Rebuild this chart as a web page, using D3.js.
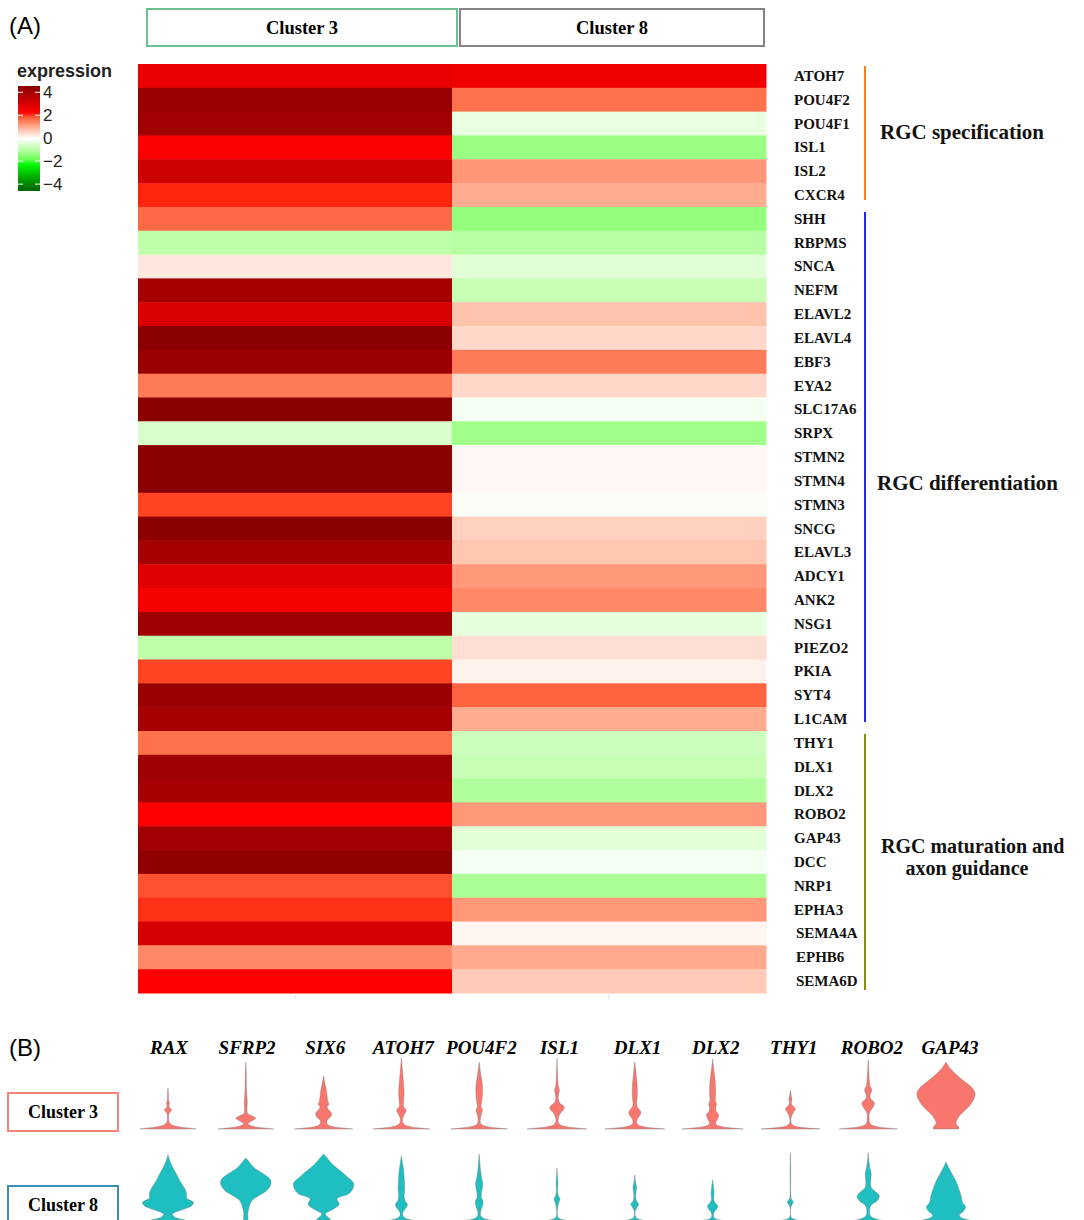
<!DOCTYPE html>
<html>
<head>
<meta charset="utf-8">
<script src="https://cdn.jsdelivr.net/npm/d3@7"></script>
<style>
	body { margin: 0; background: #fff; }
	svg { display: block; }
</style>
</head>
<body>
<svg id="chart" width="1084" height="1220"></svg>
<script>
// ---- data ----
const genes = ['ATOH7', 'POU4F2', 'POU4F1', 'ISL1', 'ISL2', 'CXCR4', 'SHH', 'RBPMS', 'SNCA', 'NEFM',
	'ELAVL2', 'ELAVL4', 'EBF3', 'EYA2', 'SLC17A6', 'SRPX', 'STMN2', 'STMN4', 'STMN3', 'SNCG',
	'ELAVL3', 'ADCY1', 'ANK2', 'NSG1', 'PIEZO2', 'PKIA', 'SYT4', 'L1CAM', 'THY1', 'DLX1',
	'DLX2', 'ROBO2', 'GAP43', 'DCC', 'NRP1', 'EPHA3', 'SEMA4A', 'EPHB6', 'SEMA6D']

const clusters = ['Cluster 3', 'Cluster 8']

const cluster3 = [2.64, 4.2, 4.07, 2.34, 3.18, 2.16, 1.7, -0.96, 0.27, 3.97,
	2.95, 4.5, 4.2, 1.52, 4.5, -0.58, 4.5, 4.5, 2.0, 4.5,
	3.95, 2.87, 2.4, 4.1, -0.96, 2.0, 4.2, 3.95, 1.62, 4.1,
	3.95, 2.3, 4.05, 4.4, 1.89, 2.1, 3.03, 1.37, 2.25]

const cluster8 = [2.55, 1.62, -0.35, -1.37, 1.21, 0.98, -1.45, -1.03, -0.47, -0.84,
	0.73, 0.47, 1.52, 0.47, -0.16, -1.33, 0.1, 0.1, -0.1, 0.56,
	0.68, 1.2, 1.37, -0.38, 0.38, 0.17, 1.74, 0.98, -0.76, -0.84,
	-1.12, 1.2, -0.45, -0.16, -1.2, 1.2, 0.12, 1.0, 0.62]

const legendTicks = [4, 2, 0, -2, -4]

const groupNames = ['RGC specification', 'RGC differentiation', 'RGC maturation and\naxon guidance']
const groupFirst = ['ATOH7', 'SHH', 'THY1']
const groupLast = ['CXCR4', 'L1CAM', 'SEMA6D']

const violinGenes = ['RAX', 'SFRP2', 'SIX6', 'ATOH7', 'POU4F2', 'ISL1', 'DLX1', 'DLX2', 'THY1', 'ROBO2', 'GAP43']

// violin profiles: [expression, half density]
const violin3 = [
	[[0,0.95],[0.06,0.65],[0.13,0.35],[0.22,0.14],[0.35,0.05],[0.55,0.02],[0.85,0.03],[1.0,0.09],[1.08,0.12],[1.18,0.06],[1.3,0.03],[1.45,0.05],[1.6,0.02],[2.0,0.015],[2.3,0]],
	[[0,0.93],[0.06,0.6],[0.13,0.3],[0.22,0.12],[0.32,0.08],[0.45,0.2],[0.6,0.33],[0.75,0.2],[0.88,0.06],[1.1,0.04],[1.5,0.05],[2.0,0.03],[2.5,0.02],[3.2,0.015],[3.77,0]],
	[[0,0.97],[0.06,0.62],[0.13,0.32],[0.22,0.15],[0.35,0.1],[0.5,0.12],[0.7,0.24],[0.9,0.26],[1.1,0.16],[1.25,0.12],[1.4,0.18],[1.55,0.14],[1.8,0.12],[2.2,0.09],[2.6,0.04],[3.0,0]],
	[[0,0.95],[0.06,0.6],[0.13,0.3],[0.22,0.12],[0.35,0.05],[0.6,0.04],[0.9,0.12],[1.07,0.16],[1.25,0.07],[1.5,0.07],[2.0,0.09],[2.6,0.07],[3.2,0.04],[3.7,0.015],[4.0,0]],
	[[0,0.95],[0.06,0.6],[0.13,0.28],[0.22,0.1],[0.35,0.04],[0.6,0.04],[0.9,0.08],[1.07,0.11],[1.25,0.06],[1.5,0.08],[2.0,0.11],[2.6,0.1],[3.1,0.05],[3.5,0.02],[3.77,0]],
	[[0,1.0],[0.06,0.65],[0.13,0.32],[0.22,0.12],[0.35,0.05],[0.6,0.04],[0.9,0.12],[1.1,0.22],[1.25,0.24],[1.45,0.1],[1.7,0.04],[2.0,0.06],[2.2,0.08],[2.45,0.04],[3.0,0.02],[4.0,0]],
	[[0,1.0],[0.06,0.62],[0.13,0.3],[0.22,0.12],[0.35,0.06],[0.55,0.08],[0.8,0.18],[0.96,0.2],[1.15,0.12],[1.35,0.06],[1.8,0.08],[2.4,0.08],[3.0,0.05],[3.5,0.02],[3.77,0]],
	[[0,1.02],[0.06,0.64],[0.13,0.32],[0.22,0.14],[0.35,0.1],[0.55,0.16],[0.8,0.2],[1.0,0.12],[1.2,0.1],[1.4,0.13],[1.6,0.09],[2.0,0.1],[2.6,0.09],[3.2,0.05],[3.6,0.02],[3.94,0]],
	[[0,0.98],[0.05,0.6],[0.11,0.28],[0.2,0.1],[0.32,0.03],[0.6,0.02],[0.95,0.1],[1.13,0.17],[1.3,0.08],[1.45,0.03],[1.65,0.05],[1.85,0.03],[2.2,0]],
	[[0,0.97],[0.06,0.6],[0.13,0.3],[0.22,0.12],[0.35,0.05],[0.6,0.03],[0.9,0.04],[1.2,0.15],[1.46,0.21],[1.7,0.08],[1.9,0.06],[2.2,0.12],[2.45,0.06],[2.9,0.03],[3.4,0.015],[3.9,0]],
	[[0,0.43],[0.12,0.42],[0.3,0.33],[0.5,0.36],[0.75,0.45],[1.0,0.6],[1.3,0.78],[1.7,0.93],[2.0,0.97],[2.3,0.88],[2.7,0.6],[3.1,0.32],[3.45,0.12],[3.77,0]]
]

const violin8 = [
	[[0,0.85],[0.12,0.55],[0.3,0.2],[0.45,0.15],[0.65,0.4],[0.9,0.78],[1.1,0.85],[1.35,0.62],[1.6,0.62],[1.9,0.55],[2.3,0.4],[2.7,0.28],[3.1,0.15],[3.45,0.06],[3.77,0]],
	[[0,0.08],[0.5,0.07],[0.9,0.12],[1.2,0.2],[1.45,0.4],[1.75,0.68],[2.05,0.82],[2.35,0.83],[2.7,0.6],[3.0,0.32],[3.2,0.2],[3.45,0.08],[3.6,0]],
	[[0,0.3],[0.2,0.2],[0.45,0.06],[0.7,0.3],[1.0,0.52],[1.3,0.45],[1.6,0.85],[1.9,0.98],[2.2,1.0],[2.5,0.82],[2.8,0.62],[3.1,0.4],[3.4,0.22],[3.65,0.1],[3.83,0]],
	[[0,1.0],[0.06,0.62],[0.13,0.3],[0.22,0.12],[0.35,0.05],[0.55,0.05],[0.8,0.16],[1.0,0.2],[1.2,0.12],[1.45,0.09],[1.8,0.11],[2.3,0.1],[2.8,0.08],[3.3,0.04],[3.72,0]],
	[[0,1.0],[0.06,0.62],[0.13,0.3],[0.22,0.12],[0.35,0.05],[0.6,0.05],[0.9,0.11],[1.15,0.13],[1.4,0.07],[1.7,0.08],[2.1,0.12],[2.5,0.08],[3.0,0.04],[3.5,0.015],[3.83,0]],
	[[0,1.0],[0.05,0.6],[0.11,0.26],[0.2,0.08],[0.32,0.02],[0.7,0.015],[1.1,0.06],[1.3,0.1],[1.5,0.04],[1.8,0.02],[2.2,0.03],[2.6,0.015],[3.04,0]],
	[[0,0.97],[0.05,0.58],[0.11,0.25],[0.2,0.08],[0.32,0.02],[0.6,0.015],[0.85,0.08],[1.0,0.13],[1.2,0.05],[1.5,0.03],[1.8,0.05],[2.0,0.06],[2.2,0.03],[2.65,0]],
	[[0,1.0],[0.05,0.6],[0.11,0.26],[0.2,0.08],[0.32,0.03],[0.55,0.05],[0.75,0.14],[0.9,0.17],[1.05,0.1],[1.25,0.04],[1.6,0.05],[2.0,0.03],[2.37,0]],
	[[0,0.97],[0.05,0.58],[0.11,0.24],[0.2,0.07],[0.32,0.015],[0.8,0.01],[1.0,0.06],[1.13,0.1],[1.3,0.03],[1.6,0.01],[2.5,0.01],[3.4,0.006],[3.9,0]],
	[[0,0.97],[0.06,0.62],[0.14,0.32],[0.25,0.14],[0.4,0.06],[0.7,0.05],[0.95,0.1],[1.2,0.3],[1.46,0.37],[1.7,0.25],[1.95,0.1],[2.3,0.08],[2.7,0.1],[3.1,0.05],[3.5,0.02],[3.9,0]],
	[[0,0.93],[0.1,0.8],[0.25,0.5],[0.4,0.45],[0.6,0.58],[0.85,0.65],[1.1,0.55],[1.5,0.5],[1.9,0.42],[2.3,0.33],[2.7,0.2],[3.05,0.09],[3.38,0]]
]

// ---- styles ----
const serif = '"Liberation Serif", "Times New Roman", serif'
const sans = '"Liberation Sans", Arial, sans-serif'
const groupColors = ['#f0801e', '#2424ff', '#8c8a12']
const violinFill = ['#f8766d', '#1fbec1']
const headerStroke = ['#6cbf8e', '#858585']
const boxStroke = ['#f4837d', '#3a8fb7']

const svg = d3.select('#chart')

let color = d3.scaleLinear()
	.domain([-4.5, -2.25, 0, 2.25, 4.5])
	.range(['#006400', '#00ff00', '#ffffff', '#ff0000', '#8b0000'])
	.interpolate(d3.interpolateLab)
	.clamp(true)

function drawHeatmap() {
	let x = d3.scaleBand().domain(clusters).range([138, 766])
	let y = d3.scaleBand().domain(genes).range([64, 993])

	let cells = []
	genes.forEach((g, i) => {
		cells.push({ gene: g, cluster: clusters[0], value: cluster3[i] })
		cells.push({ gene: g, cluster: clusters[1], value: cluster8[i] })
	})

	svg.append('g').selectAll('rect')
		.data(cells)
		.enter()
		.append('rect')
		.attr('x', d => x(d.cluster))
		.attr('y', d => y(d.gene))
		.attr('width', x.bandwidth() + 0.5)
		.attr('height', y.bandwidth() + 0.5)
		.attr('fill', d => color(d.value))

	// faint x ticks under the heatmap
	svg.append('g').selectAll('line')
		.data(clusters)
		.enter()
		.append('line')
		.attr('x1', d => x(d) + x.bandwidth() / 2)
		.attr('x2', d => x(d) + x.bandwidth() / 2)
		.attr('y1', 995)
		.attr('y2', 999)
		.attr('stroke', '#ddd')

	// header boxes
	let headers = [[147, 457], [460, 764]]
	clusters.forEach((c, i) => {
		svg.append('rect')
			.attr('x', headers[i][0]).attr('y', 9)
			.attr('width', headers[i][1] - headers[i][0]).attr('height', 37)
			.attr('fill', 'none')
			.attr('stroke', headerStroke[i])
			.attr('stroke-width', 2)
		svg.append('text')
			.attr('x', (headers[i][0] + headers[i][1]) / 2)
			.attr('y', 34)
			.attr('text-anchor', 'middle')
			.attr('font-family', serif)
			.attr('font-weight', 'bold')
			.attr('font-size', 18.5)
			.text(c)
	})

	// gene labels
	svg.append('g').selectAll('text')
		.data(genes)
		.enter()
		.append('text')
		.attr('x', d => d.startsWith('SEMA') || d === 'EPHB6' ? 796 : 794)
		.attr('y', d => y(d) + y.bandwidth() / 2 + 5)
		.attr('font-family', serif)
		.attr('font-weight', 'bold')
		.attr('font-size', 15)
		.attr('fill', '#111')
		.text(d => d)

	// group brackets
	let insets = [[2, 7], [5, 9], [3, 3]]
	let labelY = [139, 490, 853]
	let labelX = [880, 877, 881]
	groupNames.forEach((name, i) => {
		svg.append('line')
			.attr('x1', 865).attr('x2', 865)
			.attr('y1', y(groupFirst[i]) + insets[i][0])
			.attr('y2', y(groupLast[i]) + y.bandwidth() - insets[i][1])
			.attr('stroke', groupColors[i])
			.attr('stroke-width', 2)
		let lines = name.split('\n')
		lines.forEach((line, j) => {
			svg.append('text')
				.attr('x', j === 0 ? labelX[i] : 967)
				.attr('y', labelY[i] + j * 22)
				.attr('text-anchor', j === 0 ? 'start' : 'middle')
				.attr('font-family', serif)
				.attr('font-weight', 'bold')
				.attr('font-size', i === 2 ? 20 : 21)
				.attr('fill', '#111')
				.text(line)
		})
	})
}

function drawLegend() {
	let ly = d3.scaleLinear().domain([-4.6, 4.55]).range([191, 86])

	let grad = svg.append('defs').append('linearGradient')
		.attr('id', 'legend-grad')
		.attr('x1', 0).attr('y1', 1).attr('x2', 0).attr('y2', 0)
	d3.range(0, 1.0001, 0.05).forEach(t => {
		let v = -4.6 + t * 9.15
		grad.append('stop').attr('offset', t).attr('stop-color', color(v))
	})

	svg.append('text')
		.attr('x', 17).attr('y', 77)
		.attr('font-family', sans)
		.attr('font-weight', 'bold')
		.attr('font-size', 18)
		.attr('fill', '#222')
		.text('expression')

	svg.append('rect')
		.attr('x', 18).attr('y', ly(4.55))
		.attr('width', 22).attr('height', ly(-4.6) - ly(4.55))
		.attr('fill', 'url(#legend-grad)')

	let ticks = svg.append('g').selectAll('g')
		.data(legendTicks)
		.enter()
		.append('g')
	ticks.append('line')
		.attr('x1', 18).attr('x2', 23)
		.attr('y1', d => ly(d)).attr('y2', d => ly(d))
		.attr('stroke', '#fff').attr('stroke-width', 1)
	ticks.append('line')
		.attr('x1', 35).attr('x2', 40)
		.attr('y1', d => ly(d)).attr('y2', d => ly(d))
		.attr('stroke', '#fff').attr('stroke-width', 1)
	ticks.append('text')
		.attr('x', 43)
		.attr('y', d => ly(d) + 6)
		.attr('font-family', sans)
		.attr('font-size', 17)
		.attr('fill', '#222')
		.text(d => d < 0 ? '\u2212' + Math.abs(d) : d)
}

function drawViolins() {
	let xv = d3.scalePoint().domain(violinGenes).range([168, 946])
	let xl = d3.scalePoint().domain(violinGenes).range([169, 950])
	let wv = d3.scaleLinear().domain([0, 1]).range([0, 30])
	let rows = [
		{ data: violin3, y: d3.scaleLinear().domain([0, 4]).range([1129, 1058]) },
		{ data: violin8, y: d3.scaleLinear().domain([0, 4]).range([1222, 1151]) }
	]

	rows.forEach((row, r) => {
		svg.append('g').selectAll('path')
			.data(violinGenes)
			.enter()
			.append('path')
			.attr('d', (g, i) => {
				let cx = xv(g)
				return d3.area()
					.curve(d3.curveCatmullRom.alpha(0.5))
					.y(d => row.y(d[0]))
					.x0(d => cx - wv(d[1]))
					.x1(d => cx + wv(d[1]))(row.data[i])
			})
			.attr('fill', violinFill[r])
			.attr('stroke', '#777')
			.attr('stroke-width', 0.4)
	})

	svg.append('g').selectAll('text')
		.data(violinGenes)
		.enter()
		.append('text')
		.attr('x', d => xl(d))
		.attr('y', 1054)
		.attr('text-anchor', 'middle')
		.attr('font-family', serif)
		.attr('font-weight', 'bold')
		.attr('font-style', 'italic')
		.attr('font-size', 19)
		.text(d => d)

	let boxTop = [1093, 1186]
	clusters.forEach((c, i) => {
		svg.append('rect')
			.attr('x', 8).attr('y', boxTop[i])
			.attr('width', 110).attr('height', 38)
			.attr('fill', 'none')
			.attr('stroke', boxStroke[i])
			.attr('stroke-width', 2)
		svg.append('text')
			.attr('x', 63).attr('y', boxTop[i] + 25)
			.attr('text-anchor', 'middle')
			.attr('font-family', serif)
			.attr('font-weight', 'bold')
			.attr('font-size', 18)
			.text(c)
	})
}

function drawPanelLabels() {
	svg.append('text')
		.attr('x', 9).attr('y', 34)
		.attr('font-family', sans)
		.attr('font-size', 24)
		.text('(A)')
	svg.append('text')
		.attr('x', 9).attr('y', 1056)
		.attr('font-family', sans)
		.attr('font-size', 24)
		.text('(B)')
}

drawHeatmap()
drawLegend()
drawViolins()
drawPanelLabels()
</script>
</body>
</html>
